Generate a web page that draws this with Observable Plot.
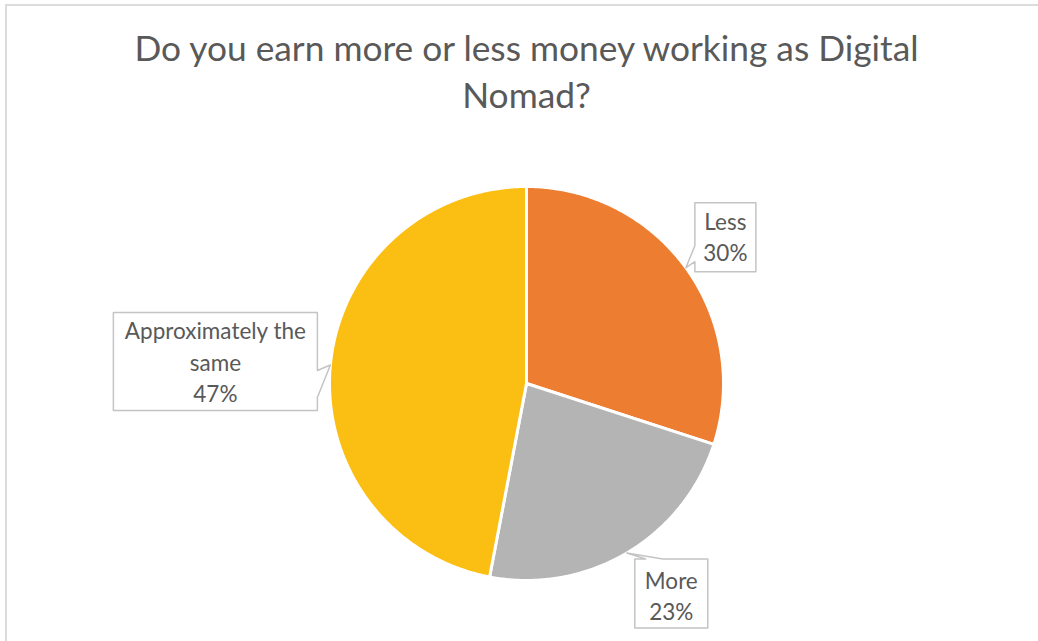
<!DOCTYPE html>
<html><head><meta charset="utf-8">
<script src="https://cdn.jsdelivr.net/npm/d3@7"></script>
<script src="https://cdn.jsdelivr.net/npm/@observablehq/plot@0.6"></script>
<style>
html,body{margin:0;padding:0;background:#fff;}
#wrap{position:relative;width:1038px;height:641px;overflow:hidden;background:#fff;}
#border{position:absolute;left:5px;top:4px;width:1100px;height:700px;border-left:2px solid #DCDCDC;border-top:2px solid #DCDCDC;}
#chart{position:absolute;left:0;top:0;}
</style></head><body>
<div id="wrap"><div id="border"></div><div id="chart"></div></div>
<script>
// ---- data ----
const title = "Do you earn more or less money working as Digital\nNomad?";
const labels = ["Less", "More", "Approximately the same"];
const values = [30, 23, 47];
const percentLabels = ["30%", "23%", "47%"];

// ---- styles / layout ----
const colors = ["#ED7D31", "#B4B4B4", "#FBBF14"];
const wrapText = {"Approximately the same": "Approximately the\nsame"};
const CX = 526, CY = 383, R = 197;
// callout outlines as pixel offsets relative to the slice's outer mid point
const callouts = {
  "Less": {shape: [[9,-65],[70,-65],[70,4],[9,4],[9,-6],[0,0],[9,-22]], text: [39.5,-59.5]},
  "More": {shape: [[8,6],[19,6],[0,0],[36,6],[81,6],[81,75],[8,75]], text: [44.5,13.5]},
  "Approximately the same": {shape: [[-217,-52.5],[-13,-52.5],[-13,5.5],[0,0],[-13,32.5],[-13,45.5],[-217,45.5]], text: [-115,-47.5]}
};

// ---- build slices ----
const total = d3.sum(values);
let acc = 0;
const slices = labels.map((label, i) => {
  const a0 = acc / total * 2 * Math.PI;
  acc += values[i];
  const a1 = acc / total * 2 * Math.PI;
  return {label, value: values[i], pct: percentLabels[i], a0, a1, mid: (a0 + a1) / 2};
});

const slicePts = [];
for (const s of slices) {
  slicePts.push({label: s.label, x: 0, y: 0});
  const n = Math.max(2, Math.ceil((s.a1 - s.a0) / (Math.PI / 360)));
  for (let k = 0; k <= n; k++) {
    const a = s.a0 + (s.a1 - s.a0) * k / n;
    slicePts.push({label: s.label, x: Math.sin(a), y: Math.cos(a)});
  }
}

const calloutPts = [];
const textPts = [];
for (const s of slices) {
  const tx = Math.sin(s.mid), ty = Math.cos(s.mid);
  const c = callouts[s.label];
  for (const [dx, dy] of c.shape) calloutPts.push({label: s.label, x: tx + dx / R, y: ty - dy / R});
  textPts.push({label: s.label, x: tx + c.text[0] / R, y: ty - c.text[1] / R,
    text: (wrapText[s.label] || s.label) + "\n" + s.pct});
}

const font = "Lato, 'Open Sans', sans-serif";
const chart = Plot.plot({
  width: 1038, height: 641, margin: 0,
  x: {domain: [-1, 1], range: [CX - R, CX + R], axis: null},
  y: {domain: [-1, 1], range: [CY + R, CY - R], axis: null},
  color: {domain: labels, range: colors},
  style: {background: "transparent", fontFamily: font},
  marks: [
    Plot.line(slicePts, {x: "x", y: "y", z: "label", fill: "label", stroke: "white", strokeWidth: 3, curve: "linear-closed", strokeLinejoin: "round"}),
    Plot.line(calloutPts, {x: "x", y: "y", z: "label", fill: "white", stroke: "#C4C4C4", strokeWidth: 1.5, curve: "linear-closed"}),
    Plot.text(textPts, {x: "x", y: "y", text: "text", lineAnchor: "top", textAnchor: "middle", fontSize: 22.5, lineHeight: 1.38, fill: "#595959", fontFamily: font}),
    Plot.text([title], {text: d => d, frameAnchor: "top", dx: 7, dy: 27.5, lineAnchor: "top", textAnchor: "middle", fontSize: 35.3, lineHeight: 1.33, fill: "#595959", fontFamily: font})
  ]
});
document.getElementById("chart").appendChild(chart);
</script>
</body></html>
